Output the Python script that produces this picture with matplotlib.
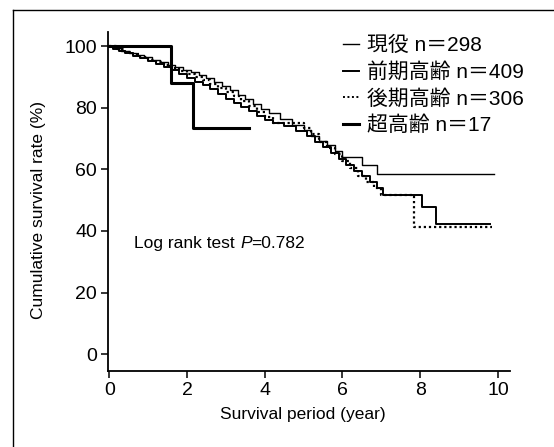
import matplotlib
matplotlib.use("Agg")
import matplotlib.pyplot as plt
from matplotlib.lines import Line2D

plt.rcParams['font.family'] = ['Liberation Sans', 'Noto Sans CJK JP']

# Kaplan-Meier steps (year, survival %)
years_current = [0, 0.15, 0.3, 0.5, 0.7, 0.9, 1.1, 1.3, 1.5, 1.7, 1.9, 2.1, 2.3, 2.5, 2.7, 2.9,
                 3.1, 3.3, 3.5, 3.7, 3.9, 4.1, 4.4, 4.7, 5.0, 5.2, 5.4, 5.6, 5.8, 6.0, 6.5, 6.9, 9.9]
surv_current = [100, 99.3, 98.6, 97.9, 97.2, 96.4, 95.6, 94.8, 94.0, 93.2, 92.3, 91.5, 90.6, 89.6, 88.5, 87.2,
                85.8, 84.3, 82.8, 81.3, 79.8, 78.2, 76.5, 74.6, 72.8, 71.0, 69.3, 67.8, 66.0, 64.0, 61.5, 58.6, 58.6]

years_early = [0, 0.1, 0.25, 0.4, 0.6, 0.8, 1.0, 1.2, 1.4, 1.6, 1.8, 2.0, 2.2, 2.4, 2.6, 2.8, 3.0, 3.2,
               3.4, 3.6, 3.8, 4.0, 4.2, 4.5, 4.8, 5.1, 5.3, 5.5, 5.7, 5.9, 6.1, 6.3, 6.5, 6.7, 6.9, 7.05,
               8.05, 8.4, 9.8]
surv_early = [100, 99.2, 98.5, 97.8, 97.0, 96.2, 95.3, 94.4, 93.4, 92.3, 91.0, 89.6, 88.5, 87.3, 86.0, 84.6,
              83.0, 81.6, 80.3, 79.0, 77.5, 76.2, 75.2, 74.0, 72.5, 70.8, 69.0, 67.2, 65.5, 63.5, 61.5, 59.5,
              57.8, 55.8, 54.0, 51.8, 47.9, 42.3, 42.3]

years_late = [0, 0.2, 0.4, 0.6, 0.8, 1.0, 1.2, 1.4, 1.6, 1.8, 2.0, 2.2, 2.4, 2.6, 2.8, 3.0, 3.2, 3.4,
              3.6, 3.8, 4.0, 4.2, 5.0, 5.2, 5.4, 5.6, 5.8, 6.0, 6.2, 6.4, 6.6, 6.8, 7.0, 7.85, 9.85]
surv_late = [100, 99.0, 98.2, 97.4, 96.5, 95.7, 94.9, 94.0, 93.0, 92.0, 91.0, 90.0, 88.9, 87.8, 86.6, 85.3,
             83.8, 82.2, 80.5, 78.6, 77.0, 75.0, 73.4, 71.5, 69.0, 67.0, 65.0, 62.8, 60.5, 58.0, 56.0, 54.0,
             51.8, 41.4, 41.4]

years_super = [0, 1.6, 2.15, 3.6]
surv_super = [100, 88.2, 73.5, 73.5]

labels = ["現役 n＝298", "前期高齢 n＝409", "後期高齢 n＝306", "超高齢 n＝17"]

fig = plt.figure(figsize=(5.54, 4.47), dpi=100)
ax = fig.add_axes([0.195, 0.170, 0.725, 0.758])

ax.step(years_current, surv_current, where='post', color='black', lw=1.0)
ax.step(years_early, surv_early, where='post', color='black', lw=1.4)
ax.step(years_late, surv_late, where='post', color='black', lw=1.6, ls=(0, (1, 1.3)))
ax.step(years_super, surv_super, where='post', color='black', lw=2.2)

ax.set_xlim(-0.03, 10.3)
ax.set_ylim(-5.5, 104.6)
ax.set_xticks([0, 2, 4, 6, 8, 10])
ax.set_yticks([0, 20, 40, 60, 80, 100])
ax.tick_params(direction='out', length=5, width=1.1, labelsize=14, colors='black', pad=3)
ax.spines['top'].set_visible(False)
ax.spines['right'].set_visible(False)
ax.spines['left'].set_linewidth(1.3)
ax.spines['bottom'].set_linewidth(1.3)

ax.set_xlabel("Survival period (year)", fontsize=12.5)
ax.set_ylabel("Cumulative survival rate (%)", fontsize=12.5)
ax.xaxis.set_label_coords(0.484, -0.105)
ax.yaxis.set_label_coords(-0.154, 0.475)

# log rank annotation, pieces chained so the italic P sits right after the text
t1 = ax.text(0.65, 35.8, "Log rank test ", fontsize=12.5, va='center')
t2 = ax.annotate("P", xy=(1, 0), xycoords=t1, va='bottom', fontsize=12.5, fontstyle='italic')
ax.annotate("=0.782", xy=(1, 0), xycoords=t2, va='bottom', fontsize=12.5)

handles = [
    Line2D([], [], color='black', lw=1.0),
    Line2D([], [], color='black', lw=1.4),
    Line2D([], [], color='black', lw=1.4, ls=(0, (1, 1.3))),
    Line2D([], [], color='black', lw=2.2),
]
fig.legend(handles, labels, loc='upper left', bbox_to_anchor=(343 / 554, 1 - 36 / 447),
           frameon=False, fontsize=15, handlelength=0.75, handletextpad=0.4,
           labelspacing=0.33, borderpad=0, borderaxespad=0)

# outer frame of the figure panel
fig.add_artist(Line2D([13 / 554, 13 / 554], [0, 1 - 10 / 447], color='black', lw=1, transform=fig.transFigure))
fig.add_artist(Line2D([13 / 554, 1], [1 - 10 / 447, 1 - 10 / 447], color='black', lw=1, transform=fig.transFigure))

fig.savefig("out.png", dpi=100)
